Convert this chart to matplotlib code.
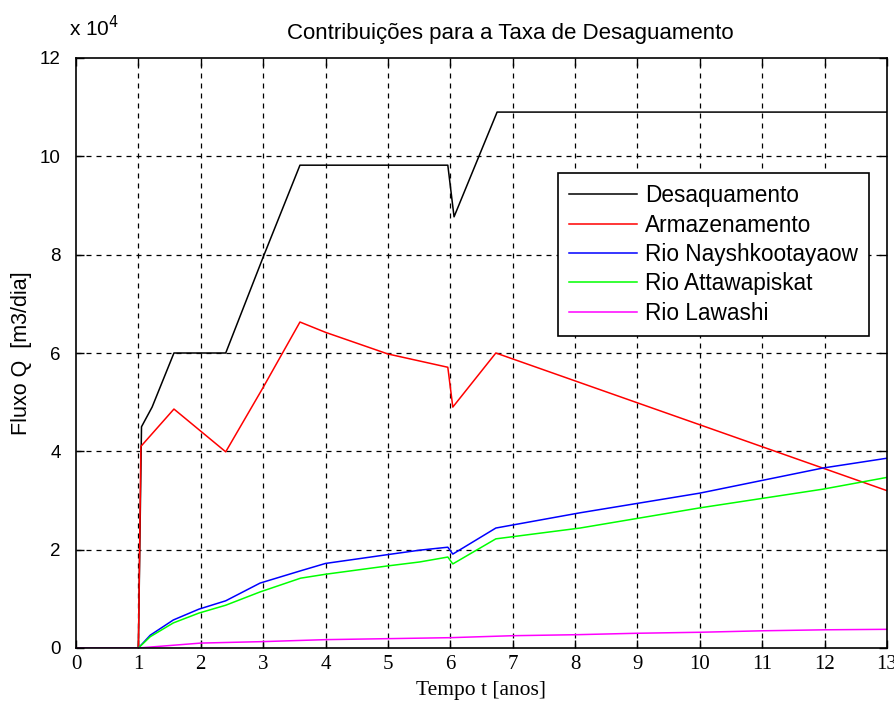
import matplotlib.pyplot as plt
from matplotlib.ticker import MultipleLocator

# values in units of 1e4 m3/dia
t_desag = [0, 1.0, 1.05, 1.22, 1.57, 2.4, 3.0, 3.59, 5.96, 6.06, 6.75, 13]
q_desag = [0, 0, 4.5, 4.9, 6.0, 6.0, 7.95, 9.82, 9.82, 8.77, 10.9, 10.9]

t_armaz = [0, 1.0, 1.04, 1.57, 2.4, 3.0, 3.59, 4.0, 5.0, 5.96, 6.04, 6.73, 13]
q_armaz = [0, 0, 4.1, 4.86, 3.99, 5.3, 6.63, 6.42, 5.98, 5.71, 4.9, 6.0, 3.2]

t_nay = [0, 1.0, 1.19, 1.56, 1.97, 2.4, 2.95, 3.6, 4.0, 5.0, 5.51, 5.96, 6.04, 6.73, 8.08, 10.0, 11.97, 13]
q_nay = [0, 0, 0.26, 0.57, 0.79, 0.96, 1.32, 1.57, 1.72, 1.9, 1.99, 2.05, 1.91, 2.44, 2.75, 3.15, 3.66, 3.86]

t_atta = [0, 1.0, 1.19, 1.56, 1.97, 2.4, 2.95, 3.6, 4.0, 5.0, 5.51, 5.96, 6.04, 6.73, 8.08, 10.0, 11.97, 13]
q_atta = [0, 0, 0.23, 0.51, 0.71, 0.87, 1.14, 1.42, 1.5, 1.67, 1.75, 1.85, 1.71, 2.22, 2.44, 2.85, 3.23, 3.47]

t_law = [0, 1.0, 1.5, 2.0, 3.0, 4.0, 5.0, 6.0, 7.0, 8.0, 9.0, 10.0, 11.0, 12.0, 13.0]
q_law = [0, 0, 0.05, 0.1, 0.13, 0.17, 0.19, 0.21, 0.25, 0.27, 0.3, 0.32, 0.35, 0.37, 0.38]

labels = ['Desaquamento', 'Armazenamento', 'Rio Nayshkootayaow',
          'Rio Attawapiskat', 'Rio Lawashi']
colors = ['#000000', '#ff0000', '#0000ff', '#00ff00', '#ff00ff']

plt.rcParams['font.family'] = ['Liberation Sans', 'DejaVu Sans']

fig = plt.figure(figsize=(8.95, 7.11), dpi=100)
ax = fig.add_axes([76 / 895, 1 - 648 / 711, 811 / 895, 590 / 711])

series = [(t_desag, q_desag), (t_armaz, q_armaz), (t_nay, q_nay),
          (t_atta, q_atta), (t_law, q_law)]
for (t, q), lab, c in zip(series, labels, colors):
    ax.plot(t, q, color=c, lw=1.1, label=lab)

ax.set_xlim(0, 13)
ax.set_ylim(0, 12)
ax.xaxis.set_major_locator(MultipleLocator(1))
ax.yaxis.set_major_locator(MultipleLocator(2))
ax.grid(True, color='black', linestyle=(0, (4, 4)), lw=0.9)
ax.tick_params(direction='in', top=True, right=True, length=6, width=1)
ax.tick_params(axis='y', pad=11, labelsize=13.5)
ax.tick_params(axis='x', pad=5, labelsize=15)
for lbl in ax.get_xticklabels():
    lbl.set_family(['Liberation Serif'])
for s in ax.spines.values():
    s.set_linewidth(1.2)
    s.set_zorder(5)

ax.set_xlabel('Tempo t [anos]', family=['Liberation Serif'], fontsize=15.5, labelpad=5)
ax.set_ylabel('Fluxo Q  [m3/dia]', fontsize=15.5, labelpad=6)
fig.text(510 / 895, 1 - 33 / 711, 'Contribuições para a Taxa de Desaguamento',
         ha='center', va='center', fontsize=16)
fig.text(69 / 895, 1 - 28 / 711, r'x 10$^{4}$', ha='left', va='center', fontsize=15)

leg = ax.legend(loc='upper left', bbox_to_anchor=(558 / 895, 1 - 173 / 711),
                bbox_transform=fig.transFigure, fontsize=16.3, frameon=True,
                fancybox=False, edgecolor='black', framealpha=1,
                labelspacing=0.28, handlelength=3.0, handletextpad=0.33,
                borderpad=0.5, borderaxespad=0)
leg.get_frame().set_linewidth(1.2)
leg.set_zorder(6)

# hide grid lines lying on the box edges
fig.canvas.draw()
for gl in ax.get_xgridlines():
    if gl.get_xdata()[0] in (0, 13):
        gl.set_visible(False)
for gl in ax.get_ygridlines():
    if gl.get_ydata()[0] in (0, 12):
        gl.set_visible(False)

fig.savefig('out.png', dpi=100)
